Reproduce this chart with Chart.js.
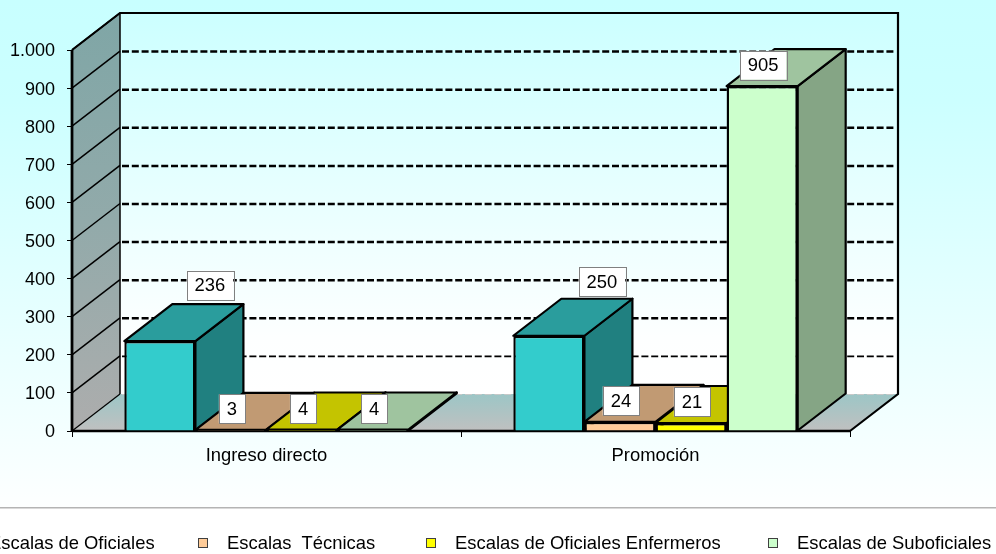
<!DOCTYPE html>
<html><head><meta charset="utf-8">
<style>html,body{margin:0;padding:0;background:#fff;overflow:hidden}canvas{display:block}</style>
<script src="https://cdn.jsdelivr.net/npm/chart.js@4"></script>
</head><body><canvas id="c" width="996" height="554"></canvas>
<script>
const categories = ["Ingreso directo", "Promoción"];
const oficiales = [236, 250];
const tecnicas = [3, 24];
const enfermeros = [4, 21];
const suboficiales = [4, 905];
const seriesNames = ["Escalas de Oficiales", "Escalas  Técnicas", "Escalas de Oficiales Enfermeros", "Escalas de Suboficiales"];
const yTicks = [0,100,200,300,400,500,600,700,800,900,1000];

const FAMILY = '"Liberation Sans", Arial, sans-serif';
const FONT = '18.4px ' + FAMILY;
const DX = 48, DY = 37;
const palette = [
  {front:'#33cccc', top:'#2a9d9d', side:'#208080'},
  {front:'#ffcc99', top:'#c19a73', side:'#a08060'},
  {front:'#ffff00', top:'#c4c400', side:'#a0a000'},
  {front:'#ccffcc', top:'#9fc49f', side:'#85a585'}
];
const legendPos = [{s:-40,t:-11},{s:198,t:227},{s:426,t:455},{s:768,t:797}];
// manual displacement of two data labels, "dataset-index" -> dx,dy
const labelShift = {'0-0':[49,-35],'0-1':[52,-33]};

function poly(ctx, pts, fill, lw, stroke){
  ctx.beginPath();
  pts.forEach((p,i)=> i?ctx.lineTo(p[0],p[1]):ctx.moveTo(p[0],p[1]));
  ctx.closePath();
  if(fill){ctx.fillStyle=fill;ctx.fill();}
  if(lw){ctx.lineWidth=lw;ctx.strokeStyle=stroke||'#000';ctx.lineJoin='round';ctx.stroke();}
}
function vGrad(ctx,y0,y1,stops){
  const g=ctx.createLinearGradient(0,y0,0,y1);
  stops.forEach(s=>g.addColorStop(s[0],s[1]));
  return g;
}

const scene = {
  id:'scene',
  beforeDraw(chart){
    const {ctx,scales:{x,y},chartArea:a}=chart;
    ctx.save();
    ctx.fillStyle='#ffffff';ctx.fillRect(0,0,chart.width,chart.height);
    ctx.fillStyle=vGrad(ctx,0,507,[[0,'#c8ffff'],[0.2,'#ccffff'],[1,'#fdffff']]);
    ctx.fillRect(0,0,chart.width,507);
    ctx.fillStyle='#b4b4b4';ctx.fillRect(0,507,chart.width,1.5);
    const y0=y.getPixelForValue(0), y1=y.getPixelForValue(1000), L=a.left, R=a.right;
    // back wall
    poly(ctx,[[L+DX,y1-DY],[R+DX,y1-DY],[R+DX,y0-DY],[L+DX,y0-DY]],
      vGrad(ctx,y1-DY,y0-DY,[[0,'#ccffff'],[0.85,'#fdffff'],[1,'#ffffff']]));
    // side wall
    poly(ctx,[[L,y0],[L,y1],[L+DX,y1-DY],[L+DX,y0-DY]],
      vGrad(ctx,y1-DY,y0,[[0,'#7fa6a6'],[0.5,'#92aaaa'],[1,'#adadad']]));
    // floor
    poly(ctx,[[L,y0],[R,y0],[R+DX,y0-DY],[L+DX,y0-DY]],
      vGrad(ctx,y0-DY,y0,[[0,'#9cc6c6'],[1,'#c0c0c0']]));
    // grid lines
    yTicks.forEach(v=>{
      const p=y.getPixelForValue(v);
      if(v>0){
        ctx.setLineDash([]);ctx.lineWidth=1.5;ctx.strokeStyle='#000';
        ctx.beginPath();ctx.moveTo(L,p);ctx.lineTo(L+DX,p-DY);ctx.stroke();
      }
      if(v<1000){
        ctx.beginPath();
        ctx.setLineDash([7,2.8]);
        ctx.lineWidth=v===0?1.2:(v===100?1.6:2.5);
        ctx.strokeStyle=v===0?'#c8c8c8':'#000';
        ctx.moveTo(L+DX+2,p-DY+0.5);ctx.lineTo(R+DX-3,p-DY+0.5);ctx.stroke();
      }
    });
    ctx.setLineDash([]);
    // wall outlines
    ctx.strokeStyle='#000';ctx.lineWidth=1.5;
    ctx.beginPath();ctx.moveTo(L+DX,y1-DY);ctx.lineTo(L+DX,y0-DY);ctx.stroke();
    ctx.lineWidth=1.2;
    ctx.beginPath();ctx.moveTo(L,y0);ctx.lineTo(L+DX,y0-DY);ctx.stroke();
    ctx.lineWidth=2.2;
    ctx.beginPath();ctx.moveTo(R,y0);ctx.lineTo(R+DX,y0-DY);ctx.lineTo(R+DX,y1-DY);ctx.lineTo(L+DX,y1-DY);ctx.lineTo(L,y1);ctx.stroke();
    ctx.lineWidth=2.8;
    ctx.beginPath();ctx.moveTo(L,y1);ctx.lineTo(L,y0);ctx.stroke();
    ctx.lineWidth=2.4;
    ctx.beginPath();ctx.moveTo(L,y0);ctx.lineTo(R,y0);ctx.stroke();
    ctx.restore();
  },
  // paint the bars left to right so each one hides the depth of its left neighbour
  beforeDatasetsDraw(chart){
    const {ctx}=chart;
    chart.data.datasets.forEach((ds,di)=>{
      const c=palette[di], meta=chart.getDatasetMeta(di);
      ctx.save();
      meta.data.forEach(b=>{
        const x0=b.x-b.width/2, x1=b.x+b.width/2, t=b.y, bt=b.base;
        poly(ctx,[[x1,bt],[x1,t],[x1+DX,t-DY],[x1+DX,bt-DY]],c.side,2.2);
        poly(ctx,[[x0,t],[x1,t],[x1+DX,t-DY],[x0+DX,t-DY]],c.top,2.2);
      });
      ctx.restore();
      meta.controller.draw();
    });
  },
  beforeDatasetDraw(){ return false; },
  afterDatasetsDraw(chart){
    const {ctx}=chart;
    ctx.save();
    ctx.font=FONT;ctx.textAlign='center';ctx.textBaseline='middle';
    chart.data.datasets.forEach((ds,di)=>{
      chart.getDatasetMeta(di).data.forEach((b,i)=>{
        const sh=labelShift[di+'-'+i]||[0,0];
        const cx=b.x+sh[0]+1, cy=b.y-21+sh[1];
        const txt=String(ds.data[i]);
        const w=ctx.measureText(txt).width+16, h=29;
        ctx.fillStyle='#fff';ctx.fillRect(cx-w/2,cy-h/2,w,h);
        ctx.lineWidth=1;ctx.strokeStyle='#808080';
        ctx.strokeRect(Math.round(cx-w/2)+.5,Math.round(cy-h/2)+.5,Math.round(w),h);
        ctx.fillStyle='#000';ctx.fillText(txt,cx,cy+1);
      });
    });
    // legend
    ctx.textAlign='left';
    chart.data.datasets.forEach((ds,di)=>{
      const p=legendPos[di];
      ctx.fillStyle=palette[di].front;ctx.fillRect(p.s,538,10,10);
      ctx.lineWidth=1;ctx.strokeStyle='#404040';ctx.strokeRect(p.s+.5,538.5,9,9);
      ctx.fillStyle='#000';ctx.fillText(ds.label,p.t,544);
    });
    ctx.restore();
  }
};

const allSeries=[oficiales,tecnicas,enfermeros,suboficiales];
new Chart(document.getElementById('c'),{
  type:'bar',
  data:{labels:categories,datasets:allSeries.map((d,i)=>({
    label:seriesNames[i],data:d,
    backgroundColor:palette[i].front,borderColor:'#000',borderWidth:2.4,
    categoryPercentage:0.731,barPercentage:1
  }))},
  options:{
    responsive:false,animation:false,
    layout:{padding:{left:0,top:50,right:146,bottom:0}},
    plugins:{legend:{display:false},tooltip:{enabled:false}},
    scales:{
      x:{afterFit:s=>{s.height=123},
        grid:{display:true,drawOnChartArea:false,drawTicks:true,tickLength:6,color:'#000',offset:true},
        border:{display:false},
        ticks:{color:'#000',font:{family:FAMILY,size:18.4},padding:8,maxRotation:0}},
      y:{min:0,max:1000,afterFit:s=>{s.width=72},
        afterBuildTicks:s=>{s.ticks=yTicks.map(v=>({value:v}))},
        grid:{display:true,drawOnChartArea:false,drawTicks:true,tickLength:5,color:'#000'},
        border:{display:false},
        ticks:{color:'#000',font:{family:FAMILY,size:18},padding:12,labelOffset:1.5,
          callback:v=>v>=1000?'1.000':String(v)}}
    }
  },
  plugins:[scene]
});
</script></body></html>
